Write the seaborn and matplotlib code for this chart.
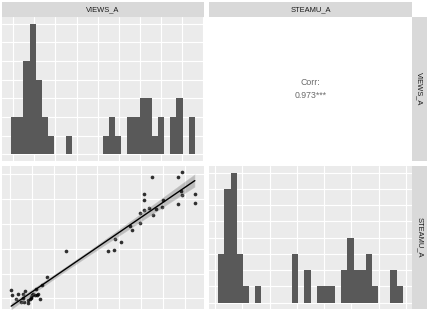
import numpy as np
import pandas as pd
import matplotlib
matplotlib.use('Agg')
import matplotlib.pyplot as plt
from matplotlib.ticker import MultipleLocator
import seaborn as sns

# values (no tick labels in the original, arbitrary units)
views_a = [0.0, 0.2, 0.8, 1.1, 1.6, 1.8, 2.0, 2.2, 1.9, 2.6,
           2.7, 2.9, 3.1, 3.3, 3.4, 3.2, 3.8, 4.0, 4.3, 3.9,
           4.6, 4.9, 5.6, 8.7, 15.3, 16.2, 16.4, 17.4, 18.8, 19.1,
           20.4, 20.4, 20.9, 20.9, 21.0, 21.8, 22.2, 22.4, 22.8, 23.8,
           24.0, 26.4, 26.3, 26.8, 26.9, 26.9, 29.0, 29.0]
steamu_a = [2.7, 1.6, 0.7, 2.0, 0.2, 1.8, 0.1, 2.6, 1.1, 0.6,
            0.0, 0.8, 1.3, 1.7, 2.0, 1.1, 1.7, 1.7, 1.8, 3.0,
            0.8, 3.9, 5.6, 11.6, 11.6, 11.8, 14.2, 13.6, 17.1, 16.1,
            17.7, 20.0, 22.9, 24.2, 20.7, 21.0, 27.9, 19.6, 20.8, 21.2,
            22.9, 22.0, 27.9, 24.8, 29.0, 23.9, 24.1, 22.3]
var_names = ['VIEWS_A', 'STEAMU_A']
corr_label = 'Corr:\n0.973***'

df = pd.DataFrame({'VIEWS_A': views_a, 'STEAMU_A': steamu_a})

sns.set_theme(style='darkgrid')
plt.rcParams['font.family'] = ['Liberation Sans', 'DejaVu Sans']

W, H = 428, 317
fig = plt.figure(figsize=(W / 100, H / 100), dpi=100)
fig.patch.set_facecolor('white')


def px_axes(x0, y0, x1, y1):
    return fig.add_axes([x0 / W, 1 - y1 / H, (x1 - x0) / W, (y1 - y0) / H])


def style(ax, face='#EBEBEB'):
    ax.set_facecolor(face)
    for s in ax.spines.values():
        s.set_visible(False)
    ax.tick_params(length=0, labelbottom=False, labelleft=False)
    ax.set_xlabel('')
    ax.set_ylabel('')
    ax.grid(True, color='white', linewidth=0.8)
    ax.set_axisbelow(True)


cols = [(2, 204), (209, 412)]
rows = [(17, 161), (166, 309)]
grid_steps = {'VIEWS_A': (3.45, -0.17), 'STEAMU_A': (4.43, -1.02)}


def hist_panel(ax, name):
    vals = df[name]
    lo, hi = vals.min(), vals.max()
    w = (hi - lo) / 29
    sns.histplot(x=vals, bins=30, binrange=(lo - w / 2, hi + w / 2), ax=ax,
                 color='#595959', alpha=1, linewidth=0)
    ax.set_xlim(lo - 2 * w, hi + 2 * w)
    top = max(p.get_height() for p in ax.patches)
    ax.set_ylim(-0.05 * top, 1.05 * top)
    style(ax)
    step, off = grid_steps[name]
    ax.xaxis.set_major_locator(MultipleLocator(step, offset=off))
    ax.yaxis.set_major_locator(MultipleLocator(1))


# diagonal histograms
ax11 = px_axes(cols[0][0], rows[0][0], cols[0][1], rows[0][1])
hist_panel(ax11, 'VIEWS_A')
ax22 = px_axes(cols[1][0], rows[1][0], cols[1][1], rows[1][1])
hist_panel(ax22, 'STEAMU_A')

# upper: correlation text
ax12 = px_axes(cols[1][0], rows[0][0], cols[1][1], rows[0][1])
style(ax12, face='white')
ax12.grid(False)
ax12.text(0.5, 0.5, corr_label, ha='center', va='center', color='#6b6b6b',
          fontsize=6.3, linespacing=1.6, transform=ax12.transAxes)

# lower: scatter with lm fit
ax21 = px_axes(cols[0][0], rows[1][0], cols[0][1], rows[1][1])
sns.regplot(data=df, x='VIEWS_A', y='STEAMU_A', ax=ax21, ci=95, seed=0,
            color='black', scatter_kws=dict(s=7, linewidths=0),
            line_kws=dict(linewidth=1))
for coll in ax21.collections[1:]:
    coll.set_alpha(0.2)
xr = df['VIEWS_A'].max() - df['VIEWS_A'].min()
yr = df['STEAMU_A'].max() - df['STEAMU_A'].min()
ax21.set_xlim(df['VIEWS_A'].min() - 0.05 * xr, df['VIEWS_A'].max() + 0.05 * xr)
ax21.set_ylim(df['STEAMU_A'].min() - 0.05 * yr, df['STEAMU_A'].max() + 0.05 * yr)
style(ax21)
ax21.xaxis.set_major_locator(MultipleLocator(3.45, offset=-0.17))
ax21.yaxis.set_major_locator(MultipleLocator(5.53, offset=0.93))

# strips
for (c0, c1), name in zip(cols, var_names):
    sa = px_axes(c0, 2, c1, 17)
    sa.set_facecolor('#D9D9D9')
    sa.set_xticks([])
    sa.set_yticks([])
    for s in sa.spines.values():
        s.set_visible(False)
    sa.grid(False)
    sa.text(0.5, 0.5, name, ha='center', va='center', color='#1A1A1A',
            fontsize=5.4, transform=sa.transAxes)

for (r0, r1), name in zip(rows, var_names):
    sa = px_axes(412, r0, 427, r1)
    sa.set_facecolor('#D9D9D9')
    sa.set_xticks([])
    sa.set_yticks([])
    for s in sa.spines.values():
        s.set_visible(False)
    sa.grid(False)
    sa.text(0.5, 0.5, name, ha='center', va='center', color='#1A1A1A',
            fontsize=5.4, rotation=-90, transform=sa.transAxes)

fig.savefig('out.png', dpi=100)
